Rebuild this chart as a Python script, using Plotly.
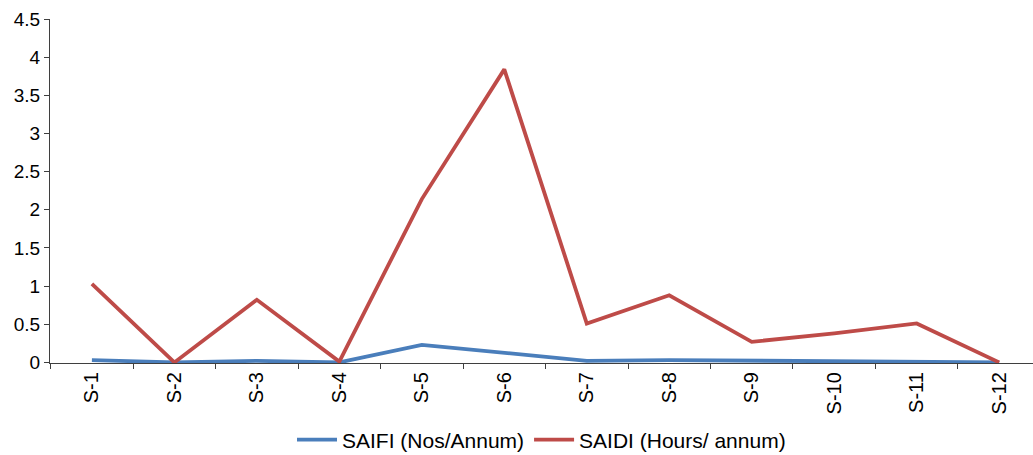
import plotly.graph_objects as go

categories = ["S-1", "S-2", "S-3", "S-4", "S-5", "S-6", "S-7", "S-8", "S-9", "S-10", "S-11", "S-12"]
saifi = [0.03, 0.0, 0.02, 0.0, 0.23, 0.13, 0.02, 0.03, 0.02, 0.02, 0.01, 0.0]
saidi = [1.03, 0.0, 0.82, 0.01, 2.14, 3.84, 0.51, 0.88, 0.27, 0.38, 0.51, 0.0]
y_ticks = [0, 0.5, 1, 1.5, 2, 2.5, 3, 3.5, 4, 4.5]
y_labels = ["0", "0.5", "1", "1.5", "2", "2.5", "3", "3.5", "4", "4.5"]

FONT = "Liberation Sans"
AXIS = "#3f3f3f"

fig = go.Figure()
fig.add_trace(go.Scatter(x=categories, y=saifi, mode="lines", name="SAIFI (Nos/Annum)",
                         line=dict(color="#4a7ebb", width=3.8)))
fig.add_trace(go.Scatter(x=categories, y=saidi, mode="lines", name="SAIDI (Hours/ annum)",
                         line=dict(color="#be4b48", width=3.8)))

fig.update_layout(
    width=1033, height=455,
    margin=dict(l=50, r=0, t=19, b=92),
    paper_bgcolor="white", plot_bgcolor="white",
    font=dict(family=FONT, size=19, color="#000000"),
    showlegend=True,
    legend=dict(orientation="h", x=0.5, xanchor="center",
                yref="container", y=(455 - 440) / 455, yanchor="middle",
                font=dict(family=FONT, size=21), itemwidth=40, bgcolor="rgba(0,0,0,0)"),
    hovermode=False,
)
fig.update_xaxes(
    type="category", range=[-0.508, 11.41],
    showline=True, linecolor=AXIS, linewidth=1.3,
    ticks="outside", ticklen=5, tickcolor=AXIS, tickwidth=1.3,
    tickson="boundaries", tickangle=-90,
    showgrid=False, zeroline=False,
    tickfont=dict(family=FONT, size=20),
)
fig.update_yaxes(
    range=[-0.008, 4.5], tickvals=y_ticks, ticktext=y_labels,
    showline=True, linecolor=AXIS, linewidth=1.3,
    ticks="outside", ticklen=5, tickcolor=AXIS, tickwidth=1.3,
    showgrid=False, zeroline=False,
    tickfont=dict(family=FONT, size=19),
)

fig.write_html("out.html")
